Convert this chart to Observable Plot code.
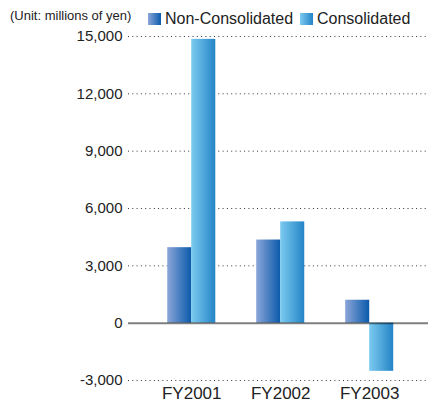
<!DOCTYPE html>
<html>
<head>
<meta charset="utf-8">
<script src="https://cdn.jsdelivr.net/npm/d3@7"></script>
<script src="https://cdn.jsdelivr.net/npm/@observablehq/plot@0.6"></script>
<style>
  body { margin: 0; background: #fff; font-family: "Liberation Sans", Arial, Helvetica, sans-serif; }
  #wrap { position: relative; width: 428px; }
  #head { position: relative; height: 28px; }
  #unit { position: absolute; left: 10px; top: 8px; font-size: 13px; color: #222; white-space: nowrap; }
  .leg { position: absolute; top: 10px; font-size: 16px; color: #222; white-space: nowrap; display: flex; align-items: center; line-height: 18px; }
  .sw { display: inline-block; width: 13px; height: 12px; margin-right: 4px; }
</style>
</head>
<body>
<div id="wrap">
  <div id="head">
    <div id="unit">(Unit: millions of yen)</div>
    <div class="leg" style="left:148px"><span class="sw" style="background:linear-gradient(to right,#8ca6d9,#0a5aab)"></span>Non-Consolidated</div>
    <div class="leg" style="left:300px"><span class="sw" style="background:linear-gradient(to right,#7ccbf0,#2484c6)"></span>Consolidated</div>
  </div>
  <div id="chart"></div>
</div>
<script>
const years = ["FY2001", "FY2002", "FY2003"];
const nonConsolidated = [3950, 4350, 1200];
const consolidated = [14850, 5300, -2520];
const yTicks = [-3000, 0, 3000, 6000, 9000, 12000, 15000];

const nonData = years.map((y, i) => ({year: y, value: nonConsolidated[i]}));
const conData = years.map((y, i) => ({year: y, value: consolidated[i]}));

const fmt = d => d3.format(",")(d).replace("\u2212", "-");

const plot = Plot.plot({
  width: 428,
  height: 375,
  marginLeft: 128,
  marginRight: 0,
  marginTop: 8,
  marginBottom: 23,
  style: {fontFamily: "'Liberation Sans', Arial, Helvetica, sans-serif", color: "#222", background: "#fff", overflow: "visible"},
  x: {domain: years, paddingInner: 0.46, paddingOuter: 0.416, align: 0.53, round: false, label: null},
  y: {domain: [-3000, 15000], label: null},
  marks: [
    Plot.ruleY(yTicks.filter(d => d !== 0), {stroke: "#333", strokeDasharray: "1,3.3", strokeWidth: 1}),
    Plot.barY(nonData, {x: "year", y: "value", fill: "url(#gNon)", insetRight: 24, insetLeft: 0}),
    Plot.barY(conData, {x: "year", y: "value", fill: "url(#gCon)", insetLeft: 24, insetRight: 0}),
    Plot.ruleY([0], {stroke: "#000", strokeOpacity: 0.5, strokeWidth: 2}),
    Plot.axisY({ticks: yTicks, tickSize: 0, tickPadding: 6, tickFormat: fmt, fontSize: 15, label: null}),
    Plot.axisX({tickSize: 0, tickPadding: 6, fontSize: 17, label: null})
  ]
});

const svg = d3.select(plot);
const defs = svg.insert("defs", ":first-child");
const g1 = defs.append("linearGradient").attr("id", "gNon").attr("x1", 0).attr("x2", 1).attr("y1", 0).attr("y2", 0);
g1.append("stop").attr("offset", "0%").attr("stop-color", "#8ca6d9");
g1.append("stop").attr("offset", "100%").attr("stop-color", "#0a5aab");
const g2 = defs.append("linearGradient").attr("id", "gCon").attr("x1", 0).attr("x2", 1).attr("y1", 0).attr("y2", 0);
g2.append("stop").attr("offset", "0%").attr("stop-color", "#7ccbf0");
g2.append("stop").attr("offset", "100%").attr("stop-color", "#2484c6");

document.getElementById("chart").appendChild(plot);
</script>
</body>
</html>
